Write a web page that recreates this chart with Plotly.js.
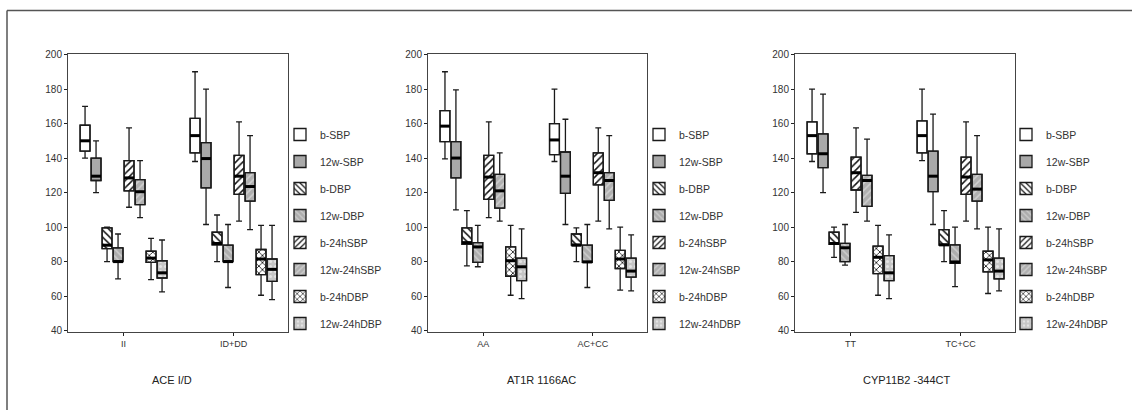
<!DOCTYPE html>
<html><head><meta charset="utf-8">
<script src="https://cdn.plot.ly/plotly-3.0.1.min.js"></script>
<style>body{margin:0;background:#fff}#chart{width:1132px;height:410px}</style>
</head><body><div id="chart"></div>
<script>
// ---------- data ----------
const panelTitles = ["ACE I/D", "AT1R 1166AC", "CYP11B2 -344CT"];
const categories = [["II", "ID+DD"], ["AA", "AC+CC"], ["TT", "TC+CC"]];
const seriesNames = ["b-SBP", "12w-SBP", "b-DBP", "12w-DBP", "b-24hSBP", "12w-24hSBP", "b-24hDBP", "12w-24hDBP"];
const yTicks = [40, 60, 80, 100, 120, 140, 160, 180, 200];

// each row = one series, columns = the two genotype groups
const aceLow = [[140,138],[120,101.5],[80,80],[70,65],[111.5,103.5],[105.5,98.5],[69.5,60.5],[62.5,58]];
const aceQ1  = [[144,143],[127,122.7],[87.5,89.7],[80,80],[121,119],[113,115],[79.5,72.5],[70.5,68.5]];
const aceMed = [[150,153],[129.5,139.7],[89.5,90.5],[80,80],[128.5,129.5],[120.5,123.5],[82,81.5],[73.5,75.5]];
const aceQ3  = [[159,163],[140,149],[99.5,97],[88,89.5],[138.5,141.5],[127.5,131.5],[86,87],[80.5,81.5]];
const aceHigh= [[170,190],[150,180],[100,107],[96,101.5],[157.5,161],[138.5,153],[93.5,101],[92.5,101]];

const atLow = [[139.5,138],[110,101.5],[77.5,80],[77,65],[105.5,103.5],[103.5,99],[60.5,63.5],[58.5,63]];
const atQ1  = [[149.5,142],[128.5,119.5],[90,89.5],[79.5,79.5],[116,124.5],[111,115.5],[71.5,76],[69,71]];
const atMed = [[158.5,150.5],[140,129.5],[91,89.5],[88.5,79.8],[129,131.5],[121,127],[80.5,81.5],[77,74.5]];
const atQ3  = [[167.5,160],[149.5,143.5],[99.5,96],[91,89.5],[141.5,143],[130.5,131.5],[88.5,86.5],[82,82]];
const atHigh= [[190,180],[179.5,162.5],[109.5,99.5],[101,101.5],[161,157.5],[143,153],[101,100],[99,95.5]];

const cypLow = [[138,138.5],[120,101.5],[82.5,80],[78,65.5],[108.5,103.5],[103.5,99],[60.5,61.5],[58.5,63]];
const cypQ1  = [[142.5,143],[134.5,120.5],[90,89.5],[80,79],[121.5,119],[112,115],[73,74],[69,70]];
const cypMed = [[153,153],[142.5,129.5],[90.5,89.7],[88,79.8],[131.5,129],[127,122],[82.5,81],[73.5,74.5]];
const cypQ3  = [[161,161.5],[154,144],[97,98.5],[90.5,89.7],[140.5,140.5],[130,130.5],[89,86],[83.5,82]];
const cypHigh= [[180,180],[177,165.5],[100,109.5],[101.5,100],[157.5,161],[151,153],[101,100],[95.5,99]];

const panels = [
  {low: aceLow, q1: aceQ1, med: aceMed, q3: aceQ3, high: aceHigh},
  {low: atLow,  q1: atQ1,  med: atMed,  q3: atQ3,  high: atHigh},
  {low: cypLow, q1: cypQ1, med: cypMed, q3: cypQ3, high: cypHigh}
];

// ---------- styles ----------
const styles = [
  {bg: "#ffffff", fg: "#ffffff", shape: ""},
  {bg: "#a9a9a9", fg: "#a9a9a9", shape: ""},
  {bg: "#ffffff", fg: "#111111", shape: "\\"},
  {bg: "#adadad", fg: "#cdcdcd", shape: "\\"},
  {bg: "#ffffff", fg: "#111111", shape: "/"},
  {bg: "#b0b0b0", fg: "#d0d0d0", shape: "/"},
  {bg: "#ffffff", fg: "#111111", shape: "x"},
  {bg: "#c6c6c6", fg: "#e4e4e4", shape: "."}
];
const W = 1132, H = 410;
const FONT = "Liberation Sans, Arial, sans-serif";
const xDomains = [[68/W, 288/W], [428/W, 647/W], [795/W, 1015/W]];
const yDomain = [1 - 332/H, 1 - 54/H];
const slot = 0.1, boxW = 0.09;
const legendX = [280, 639, 1006];
const titleX = [172, 541, 907];

const traces = [];
const layout = {
  width: W, height: H, autosize: false,
  margin: {l: 0, r: 0, t: 0, b: 0},
  paper_bgcolor: "#ffffff", plot_bgcolor: "#ffffff",
  barmode: "overlay", boxmode: "overlay",
  showlegend: true,
  font: {family: FONT, color: "#333"},
  shapes: [
    {type: "line", xref: "paper", yref: "paper", x0: 7/W, x1: 1, y0: 1 - 10.5/H, y1: 1 - 10.5/H, line: {color: "#555", width: 1.5}},
    {type: "line", xref: "paper", yref: "paper", x0: 7/W, x1: 7/W, y0: 0, y1: 1 - 10.5/H, line: {color: "#555", width: 1.5}}
  ],
  annotations: []
};

panels.forEach((pd, p) => {
  const xa = p === 0 ? "x" : "x" + (p + 1);
  const ya = p === 0 ? "y" : "y" + (p + 1);
  const lg = p === 0 ? "legend" : "legend" + (p + 1);
  const medX = [], medY = [];
  seriesNames.forEach((name, s) => {
    const off = (s - 3.5) * slot;
    const xs = categories[p].map((c, ci) => ci + off);
    const st = styles[s];
    traces.push({
      type: "bar", name: name, legend: lg, legendgroup: "p" + p + "s" + s,
      xaxis: xa, yaxis: ya, x: xs,
      base: pd.q1[s], y: pd.q3[s].map((v, i) => v - pd.q1[s][i]),
      width: boxW, hoverinfo: "skip",
      marker: {
        color: st.bg,
        pattern: {shape: st.shape, fgcolor: st.fg, bgcolor: st.bg, size: 5, solidity: 0.3, fillmode: "replace"},
        line: {color: "#1a1a1a", width: 1.3}
      }
    });
    traces.push({
      type: "box", name: name, showlegend: false, legend: lg,
      xaxis: xa, yaxis: ya, x: xs,
      q1: pd.q1[s], median: pd.med[s], q3: pd.q3[s],
      lowerfence: pd.low[s], upperfence: pd.high[s],
      width: boxW, whiskerwidth: 0.6, boxpoints: false,
      fillcolor: "rgba(0,0,0,0)", line: {color: "#1a1a1a", width: 1.3},
      hoverinfo: "skip"
    });
    xs.forEach((xc, i) => {
      medX.push(xc - boxW/2, xc + boxW/2, null);
      medY.push(pd.med[s][i], pd.med[s][i], null);
    });
  });
  traces.push({
    type: "scatter", mode: "lines", showlegend: false, xaxis: xa, yaxis: ya,
    x: medX, y: medY, line: {color: "#000", width: 3}, hoverinfo: "skip"
  });
  layout["xaxis" + (p === 0 ? "" : p + 1)] = {
    domain: xDomains[p], anchor: ya, range: [-0.505, 1.495],
    tickvals: [0, 1], ticktext: categories[p], ticks: "outside", ticklen: 3,
    tickcolor: "#222", showline: true, mirror: true, linecolor: "#444", linewidth: 1,
    showgrid: false, zeroline: false, tickfont: {family: FONT, size: 9, color: "#333"}
  };
  layout["yaxis" + (p === 0 ? "" : p + 1)] = {
    domain: yDomain, anchor: xa, range: [39.2, 200.3],
    tickvals: yTicks, ticks: "outside", ticklen: 3, tickcolor: "#222",
    showline: true, mirror: true, linecolor: "#444", linewidth: 1,
    showgrid: false, zeroline: false, tickfont: {family: FONT, size: 10, color: "#333"}
  };
  layout[lg] = {
    x: legendX[p] / W, y: 1 - 120/H, xanchor: "left", yanchor: "top",
    font: {family: FONT, size: 10.5, color: "#333"}, tracegroupgap: 8,
    bgcolor: "rgba(0,0,0,0)", traceorder: "grouped"
  };
  layout.annotations.push({
    xref: "paper", yref: "paper", x: titleX[p] / W, y: 1 - 380/H,
    text: panelTitles[p], showarrow: false, xanchor: "center", yanchor: "middle",
    font: {family: FONT, size: 11, color: "#222"}
  });
});

Plotly.newPlot("chart", traces, layout, {staticPlot: true});
</script></body></html>
